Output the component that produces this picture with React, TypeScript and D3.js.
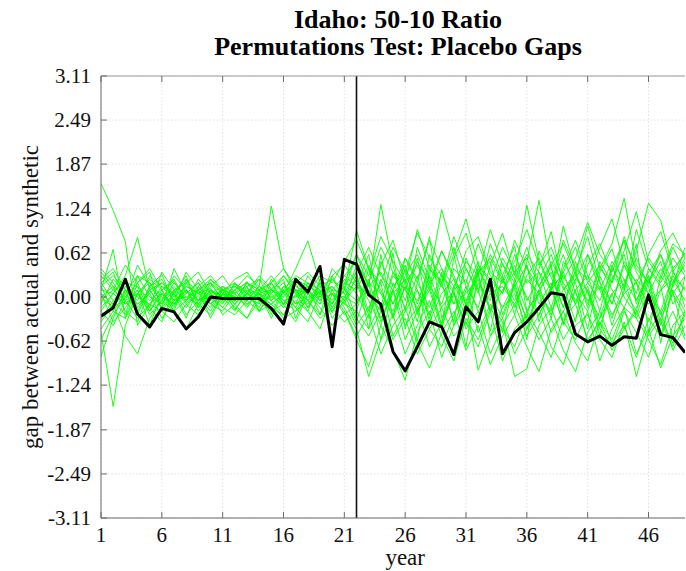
import React from 'react';
import * as d3 from 'd3';

const years = d3.range(1, 50);
const xTicks = [1, 6, 11, 16, 21, 26, 31, 36, 41, 46];
const yTicks = [-3.11, -2.49, -1.87, -1.24, -0.62, 0, 0.62, 1.24, 1.87, 2.49, 3.11];
const treatYear = 22;

const idaho = [-0.27, -0.15, 0.25, -0.24, -0.42, -0.16, -0.21, -0.45, -0.28, 0.0, -0.02, -0.02, -0.02, -0.02, -0.16, -0.38, 0.25, 0.07, 0.43, -0.7, 0.53,
  0.46, 0.03, -0.1, -0.77, -1.04, -0.7, -0.35, -0.42, -0.81, -0.14, -0.35, 0.25, -0.8, -0.5, -0.35, -0.15, 0.06, 0.03, -0.52, -0.63, -0.55, -0.68, -0.56, -0.58, 0.03, -0.53, -0.57, -0.78];

const placebos = [
  [1.6, 1.22, 0.78, -0.4, -0.1, 0.05, -0.12, 0.1, -0.05, 0.08, 0.02, -0.06, 0.12, 0.04, -0.1, 0.06, 0.2, -0.15, 0.1, -0.22, 0.18, 0.35, -0.45, 0.6, -0.3, 0.15, -0.62, 0.4, 0.2, -0.35, 0.55, 0.1, -0.48, 0.3, 0.72, -0.2, 0.05, 0.45, -0.38, 0.25, 0.1, -0.55, 0.42, 0.8, -0.1, 0.3, -0.65, 0.2, 0.55],
  [-0.5, -1.54, -0.4, 0.05, -0.2, 0.1, 0.22, -0.08, 0.05, -0.15, 0.1, 0.04, -0.12, 0.08, 0.2, -0.1, 0.02, 0.15, -0.25, 0.3, -0.1, -0.2, 0.4, -0.15, 0.62, -0.45, 0.2, 0.85, -0.3, 0.1, -0.7, 0.35, 0.5, -0.25, 0.18, -0.6, 0.4, 0.92, 0.15, -0.35, 0.6, 0.22, -0.4, 0.1, 0.75, -0.5, 0.3, 0.05, -0.28],
  [0.1, 0.67, -0.3, 0.2, 0.35, -0.2, 0.05, 0.3, -0.15, 0.1, -0.05, 0.18, 0.08, -0.2, 0.1, 0.25, -0.3, 0.15, 0.05, -0.1, 0.2, 0.6, 0.15, 1.3, 0.45, -0.2, 0.7, 0.25, -0.4, 0.55, 0.9, 0.3, -0.2, 0.48, 0.1, -0.3, 0.65, 0.28, -0.15, 0.38, 0.85, 0.2, -0.1, 0.45, 0.05, 0.6, 0.92, 0.35, 0.62],
  [-0.2, 0.05, 0.3, 0.84, 0.1, -0.15, 0.4, 0.05, 0.2, -0.1, 0.15, 0.05, 0.22, -0.08, 0.12, 0.3, 0.05, -0.2, 0.25, 0.1, 0.05, -0.35, 0.2, -0.6, 0.1, 0.45, -0.25, 0.3, 1.23, 0.6, -0.15, 0.4, 0.1, -0.5, 0.25, 0.7, 0.15, -0.3, 0.5, 0.2, -0.45, 0.35, 0.68, 0.1, -0.2, 0.4, 0.15, -0.6, 0.3],
  [-0.35, -0.1, -0.55, -0.8, -0.3, -0.05, -0.2, -0.45, -0.1, -0.25, 0.05, -0.15, -0.3, -0.05, -0.2, -0.1, -0.35, 0.05, -0.15, -0.4, -0.2, -0.6, -0.98, -0.4, -0.75, -1.17, -0.5, -0.2, -0.85, -0.4, -0.1, -1.03, -0.55, -0.3, -0.8, -0.45, -0.15, -0.7, -0.95, -0.4, -0.25, -0.6, -0.85, -0.35, -1.12, -0.5, -0.2, -0.75, -0.4],
  [-0.84, -0.3, 0.1, -0.25, 0.15, 0.32, -0.1, 0.05, 0.2, -0.05, 0.12, -0.18, 0.05, 0.1, -0.25, 0.15, 0.08, -0.05, 0.2, -0.15, 0.1, 0.94, 0.4, 0.1, -0.3, 0.55, 0.2, -0.15, 0.35, -0.4, 0.1, 0.5, -0.2, 0.25, -0.05, 0.45, -0.35, 0.15, 0.6, 0.05, -0.2, 0.3, -0.1, 0.5, 0.2, -0.35, 0.1, 0.4, -0.15],
  [0.05, -0.1, 0.2, 0.15, -0.05, 0.1, -0.2, 0.25, 0.05, 0.12, -0.08, 0.1, 0.3, 0.15, 1.28, 0.4, 0.1, -0.15, 0.2, 0.05, -0.1, 0.3, -0.2, 0.45, 0.8, 0.2, -0.35, 0.6, 0.15, -0.1, 0.4, 0.05, 0.75, 0.3, -0.25, 0.5, 1.36, 0.4, -0.05, 0.25, 0.6, 0.1, -0.3, 0.2, 0.55, 0.15, -0.4, 0.35, 0.1],
  [0.2, 0.35, -0.1, 0.05, 0.25, 0.1, -0.15, 0.2, 0.35, 0.05, 0.15, -0.05, 0.2, 0.1, 0.3, 0.05, 0.4, 0.79, 0.2, -0.1, 0.3, 0.15, 0.6, -0.2, 0.35, 0.1, 0.55, -0.3, 0.2, 0.7, 0.15, -0.15, 0.45, 0.9, 0.3, 1.29, 0.5, 0.1, 1.0, 0.35, -0.1, 0.4, 0.75, 1.39, 0.45, 0.2, 0.6, 0.05, 0.3],
  [0.0, 0.15, -0.2, -0.35, 0.1, -0.15, 0.05, -0.3, 0.15, -0.1, -0.2, 0.05, -0.15, 0.1, -0.05, -0.25, 0.05, -0.1, 0.15, -0.3, -0.05, -0.4, -0.15, 0.2, -0.55, -0.2, 0.1, -0.45, -0.7, -0.25, 0.15, -0.5, -0.1, -0.35, -1.12, -1.01, -0.4, -0.15, -0.6, -0.3, 0.1, -0.45, -0.7, -0.2, -0.5, -0.85, -0.3, 0.05, -0.55],
  [0.3, 0.1, 0.45, 0.2, -0.15, 0.35, 0.1, 0.2, -0.05, 0.25, 0.1, 0.15, 0.05, 0.3, 0.12, -0.1, 0.25, 0.15, 0.05, 0.3, 0.45, 0.2, -0.25, 0.5, 0.15, 0.35, -0.1, 0.45, 0.2, 0.85, 0.4, 0.1, 0.6, 0.25, -0.15, 0.3, 0.55, 0.1, 0.35, 0.7, 0.2, -0.05, 0.4, 0.15, 0.65, 1.32, 1.08, 0.4, 0.6],
  [-0.15, 0.05, -0.1, 0.1, -0.25, -0.05, 0.15, -0.1, 0.02, -0.2, 0.1, -0.05, 0.05, -0.15, 0.2, -0.05, -0.2, 0.1, -0.1, 0.05, -0.25, -0.1, 0.25, -0.35, 0.1, -0.6, -0.2, 0.15, -0.4, 0.05, -0.25, 0.35, -0.55, -0.15, 0.2, -0.35, 0.05, -0.5, -0.2, 0.1, -0.65, -0.3, 0.05, -0.45, -0.15, 0.25, -0.35, -0.7, -0.2],
  [0.15, -0.2, 0.05, 0.3, 0.2, -0.1, 0.1, -0.05, 0.25, 0.05, -0.1, 0.2, -0.05, 0.15, 0.05, 0.2, -0.1, 0.3, 0.05, 0.15, -0.05, 0.45, 0.2, 0.7, 0.35, -0.05, 0.5, 0.2, 0.65, 0.3, -0.1, 0.45, 0.25, 0.05, 0.6, 0.2, 0.35, -0.15, 0.4, 0.8, 0.3, 0.1, 0.5, 0.25, -0.05, 0.35, 0.6, 0.2, 0.45],
  [-0.3, -0.05, 0.15, -0.1, 0.05, -0.3, -0.05, 0.1, -0.2, 0.05, -0.15, 0.1, -0.1, 0.05, -0.3, 0.1, -0.15, -0.35, 0.05, -0.1, 0.15, -0.3, -0.55, -0.2, 0.1, -0.4, -0.15, -0.7, -0.35, 0.05, -0.45, -0.2, -0.8, -0.4, -0.1, -0.55, -0.25, 0.1, -0.35, -0.6, -0.2, -0.9, -0.45, -0.15, -0.3, -0.6, -0.95, -0.4, -0.2],
  [0.25, 0.4, 0.1, -0.05, 0.3, 0.15, 0.05, 0.25, -0.1, 0.15, 0.3, 0.05, 0.15, 0.25, -0.05, 0.1, 0.3, 0.2, -0.05, 0.25, 0.1, 0.6, 0.3, 0.85, 0.5, 0.2, 0.95, 0.4, 0.15, 0.6, 1.1, 0.45, 0.2, 0.7, 0.35, 0.55, 0.15, 0.45, 0.75, 0.3, 1.0, 0.4, 0.2, 0.65, 1.2, 0.5, 0.25, 0.7, 0.35],
  [0.05, -0.35, -0.15, 0.1, -0.4, 0.05, -0.2, -0.05, 0.1, -0.3, 0.05, -0.1, 0.15, -0.2, 0.05, -0.15, 0.1, -0.05, -0.25, 0.1, -0.15, -0.45, -1.12, -0.6, -0.25, -0.8, -0.4, -0.05, -0.55, -0.9, -0.3, -0.6, -0.15, -0.45, -0.7, -0.2, -0.5, -0.85, -0.3, -0.1, -0.6, -0.35, -0.75, -0.45, -0.2, -0.55, -0.3, -0.65, -0.25],
  [0.4, 0.2, -0.05, 0.45, 0.15, 0.25, -0.05, 0.35, 0.1, 0.2, 0.05, 0.25, 0.35, 0.1, 0.2, 0.4, 0.15, 0.05, 0.3, 0.2, 0.5, 0.8, 0.4, 0.2, 0.7, 0.35, 0.9, 0.55, 0.3, 0.1, 0.65, 0.85, 0.35, 0.2, 0.5, 0.95, 0.45, 0.7, 0.25, 0.55, 1.05, 0.6, 0.35, 0.8, 0.4, 0.2, 0.65, 0.9, 0.55],
  [-0.1, 0.25, 0.05, -0.2, 0.15, -0.05, 0.3, 0.1, -0.15, 0.2, -0.05, 0.15, 0.0, -0.1, 0.25, 0.05, -0.15, 0.2, 0.1, -0.05, 0.25, 0.05, -0.3, 0.25, -0.1, 0.4, 0.1, -0.25, 0.3, 0.05, -0.4, 0.2, -0.05, 0.55, 0.25, -0.2, 0.1, 0.35, -0.15, 0.5, 0.05, -0.3, 0.25, 0.6, -0.05, 0.3, -0.25, 0.15, 0.5],
  [-0.45, -0.2, -0.3, 0.05, -0.15, -0.35, 0.1, -0.25, -0.05, 0.05, -0.25, -0.1, -0.3, 0.05, -0.15, -0.25, -0.05, -0.2, -0.45, 0.05, -0.2, -0.55, -0.25, -0.8, -0.4, -0.15, -0.65, -1.0, -0.5, -0.2, -0.75, -0.4, -0.95, -0.55, -0.25, -0.7, -1.05, -0.45, -0.2, -0.65, -0.9, -0.35, -0.6, -0.15, -0.8, -0.45, -1.0, -0.55, -0.3],
  [0.1, 0.05, 0.25, -0.15, 0.1, 0.2, 0.05, -0.15, 0.1, 0.25, 0.05, -0.05, 0.2, 0.1, 0.05, 0.3, 0.1, 0.05, -0.1, 0.4, 0.2, 0.1, 0.45, 0.05, -0.2, 0.3, 0.6, 0.15, -0.1, 0.4, 0.2, 0.75, 0.3, 0.05, 0.45, -0.05, 0.25, 0.6, 0.1, 0.35, -0.15, 0.5, 0.2, 0.85, 0.35, 0.05, 0.4, 0.15, 0.7],
  [0.2, -0.05, -0.25, 0.3, 0.0, -0.1, 0.2, 0.0, -0.1, 0.1, 0.0, -0.2, 0.1, 0.0, -0.1, 0.05, 0.25, -0.05, 0.1, -0.2, 0.0, 0.25, -0.05, -0.4, 0.2, -0.15, 0.3, -0.35, 0.05, 0.25, -0.2, 0.4, 0.05, -0.3, 0.15, 0.45, -0.1, 0.2, -0.4, 0.1, 0.3, -0.2, 0.45, 0.0, -0.25, 0.2, 0.5, -0.1, 0.15],
  [-0.05, 0.1, -0.05, 0.05, 0.2, 0.0, -0.1, 0.15, 0.05, -0.05, 0.1, 0.0, -0.05, 0.15, 0.0, -0.1, 0.1, 0.05, 0.0, 0.15, -0.05, 0.15, 0.05, -0.2, 0.3, 0.1, -0.15, 0.2, 0.4, -0.1, 0.05, 0.25, -0.2, 0.1, 0.35, 0.0, -0.25, 0.15, 0.3, -0.05, 0.2, 0.45, 0.1, -0.15, 0.25, 0.05, -0.2, 0.3, 0.1],
  [0.0, -0.15, 0.1, 0.0, -0.1, 0.15, -0.05, 0.0, 0.1, -0.1, 0.05, 0.0, -0.05, 0.05, 0.1, -0.05, 0.0, 0.1, -0.05, 0.05, 0.0, -0.1, 0.2, 0.05, -0.25, 0.15, -0.05, 0.3, -0.15, 0.1, 0.25, -0.2, 0.05, 0.15, -0.1, 0.25, 0.05, -0.2, 0.1, 0.3, -0.05, 0.15, -0.25, 0.05, 0.2, -0.1, 0.1, 0.25, -0.05],
  [0.35, 0.15, 0.0, 0.2, 0.4, 0.1, 0.25, -0.05, 0.15, 0.3, 0.1, 0.2, 0.05, 0.25, 0.1, 0.0, 0.2, 0.35, 0.15, 0.25, 0.05, 0.35, 0.7, 0.3, 0.1, 0.55, 0.25, 0.8, 0.4, 0.15, 0.5, 0.3, 0.95, 0.45, 0.2, 0.6, 0.35, 0.1, 0.8, 0.4, 0.25, 0.7, 1.1, 0.45, 0.2, 0.55, 0.3, 0.75, 0.6],
  [-0.2, -0.4, -0.05, -0.3, -0.1, -0.2, -0.35, -0.1, -0.25, 0.0, -0.15, -0.25, -0.05, -0.2, -0.1, -0.3, -0.2, -0.05, -0.3, -0.15, -0.35, -0.2, -0.45, -0.1, -0.6, -0.3, -0.8, -0.45, -0.15, -0.55, -0.35, -0.7, -0.2, -0.9, -0.45, -0.25, -0.6, -0.3, -0.75, -1.05, -0.5, -0.2, -0.65, -0.4, -0.85, -0.3, -0.55, -0.2, -0.6],
  [0.15, 0.3, 0.1, -0.1, 0.05, 0.2, 0.0, 0.15, 0.05, 0.2, -0.05, 0.1, 0.2, 0.05, -0.05, 0.15, 0.05, 0.2, 0.0, 0.1, 0.3, 0.5, 0.15, 0.35, -0.1, 0.2, 0.45, 0.1, 0.65, 0.25, -0.05, 0.35, 0.55, 0.2, 0.8, 0.4, 0.15, 0.5, 0.2, -0.1, 0.45, 0.75, 0.3, 0.1, 0.95, 0.4, 0.2, 0.55, 0.3],
  [-0.6, -0.25, 0.0, 0.15, -0.2, 0.05, -0.1, 0.1, -0.05, 0.0, 0.1, -0.1, 0.05, -0.05, 0.0, 0.1, -0.1, 0.0, 0.05, -0.15, 0.1, -0.05, 0.1, -0.3, 0.05, 0.25, -0.2, 0.1, -0.45, 0.15, -0.1, -0.35, 0.2, -0.15, 0.05, -0.45, 0.1, -0.25, 0.35, -0.1, 0.15, -0.4, 0.05, 0.25, -0.3, 0.05, -0.55, 0.1, -0.2],
];

const W = 686;
const H = 571;
const margin = { top: 76, right: 1, bottom: 53, left: 101 };

export default function App() {
  const x = d3.scaleLinear().domain([1, 49]).range([margin.left, W - margin.right]);
  const y = d3.scaleLinear().domain([-3.11, 3.11]).range([H - margin.bottom, margin.top]);
  const line = d3.line<number>().x((_, i) => x(years[i])).y(d => y(d));
  const left = x.range()[0];
  const right = x.range()[1];
  const top = y.range()[1];
  const bottom = y.range()[0];
  const font = '"Liberation Serif", serif';
  const cx = (left + 695) / 2;

  return (
    <svg width={W} height={H} style={{ position: 'absolute', left: 0, top: 0, background: '#fff' }} fontFamily={font}>
      <defs>
        <clipPath id="plot">
          <rect x={left} y={top} width={right - left} height={bottom - top} />
        </clipPath>
      </defs>
      <rect width={W} height={H} fill="#fff" />
      <text x={cx} y={28} textAnchor="middle" fontSize={26} fontWeight="bold">Idaho: 50-10 Ratio</text>
      <text x={cx} y={55} textAnchor="middle" fontSize={26} fontWeight="bold">Permutations Test: Placebo Gaps</text>

      {/* grid */}
      <g stroke="#d9d9d9" strokeWidth={0.8} strokeDasharray="1.5,2">
        {xTicks.map(t => <line key={'gx' + t} x1={x(t)} x2={x(t)} y1={top} y2={bottom} />)}
        {yTicks.map(t => <line key={'gy' + t} x1={left} x2={right} y1={y(t)} y2={y(t)} />)}
      </g>

      <g clipPath="url(#plot)" fill="none" strokeLinejoin="round">
        {placebos.map((s, i) => (
          <path key={i} d={line(s) ?? ''} stroke="#00ff00" strokeWidth={0.9} />
        ))}
        <path d={line(idaho) ?? ''} stroke="#000" strokeWidth={3} />
      </g>

      <line x1={x(treatYear)} x2={x(treatYear)} y1={top} y2={bottom} stroke="#111" strokeWidth={1.6} />

      {/* axes */}
      <g stroke="#6b6b6b" strokeWidth={1}>
        <line x1={left} x2={left} y1={top} y2={bottom} />
        <line x1={left} x2={right} y1={bottom} y2={bottom} />
        <line x1={left} x2={right} y1={top} y2={top} stroke="#9a9a9a" />
        {yTicks.map(t => <line key={'ty' + t} x1={left} x2={left + 6} y1={y(t)} y2={y(t)} />)}
        {xTicks.map(t => (
          <g key={'tx' + t}>
            <line x1={x(t)} x2={x(t)} y1={bottom} y2={bottom - 6} />
            <line x1={x(t)} x2={x(t)} y1={top} y2={top + 6} />
          </g>
        ))}
      </g>

      <g fontSize={21} fill="#111">
        {yTicks.map(t => (
          <text key={'ly' + t} x={left - 10} y={y(t)} dy="0.35em" textAnchor="end">{t.toFixed(2)}</text>
        ))}
        {xTicks.map(t => (
          <text key={'lx' + t} x={x(t)} y={bottom + 24} textAnchor="middle">{t}</text>
        ))}
        <text x={x(26)} y={H - 6} textAnchor="middle" fontSize={23}>year</text>
        <text transform={`translate(38,${(top + bottom) / 2}) rotate(-90)`} textAnchor="middle" fontSize={23}>gap between actual and synthetic</text>
      </g>
    </svg>
  );
}
